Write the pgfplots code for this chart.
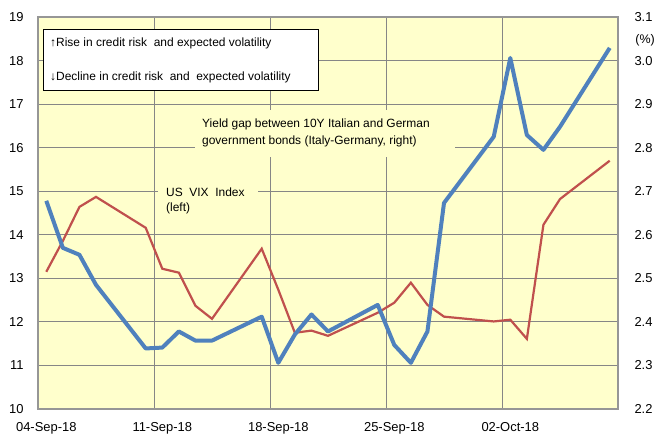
\documentclass[border=0pt]{standalone}
\usepackage{pgfplots}
\pgfplotsset{compat=1.18}
\usepackage{fontspec}
\setmainfont{Liberation Sans}
\definecolor{bgyellow}{RGB}{255,255,204}
\definecolor{vixblue}{RGB}{79,129,189}
\definecolor{gapred}{RGB}{192,80,77}
\definecolor{gridgray}{RGB}{134,134,134}
\definecolor{framegray}{RGB}{150,150,150}

\pgfplotstableread{
d v
0.5 14.78
1.5 13.70
2.5 13.54
3.5 12.85
6.5 11.39
7.5 11.41
8.5 11.78
9.5 11.57
10.5 11.57
13.5 12.12
14.5 11.06
15.5 11.71
16.5 12.17
17.5 11.78
20.5 12.39
21.5 11.47
22.5 11.06
23.5 11.78
24.5 14.73
27.5 16.25
28.5 18.06
29.5 16.29
30.5 15.95
31.5 16.48
34.5 18.29
}\vixdata

\pgfplotstableread{
d g
0.5 2.515
1.5 2.586
2.5 2.664
3.5 2.687
6.5 2.616
7.5 2.522
8.5 2.513
9.5 2.437
10.5 2.407
13.5 2.568
14.5 2.474
15.5 2.375
16.5 2.380
17.5 2.368
20.5 2.421
21.5 2.444
22.5 2.490
23.5 2.439
24.5 2.412
27.5 2.401
28.5 2.405
29.5 2.361
30.5 2.623
31.5 2.682
34.5 2.770
}\gapdata

\begin{document}
\begin{tikzpicture}[x=1bp,y=1bp]
\pgfplotsset{
  base/.style={at={(38bp,27bp)}, anchor=south west, width=580bp, height=392bp,
    scale only axis, xmin=0, xmax=35, major tick length=0pt,
    /pgf/number format/assume math mode=true,
    tick label style={font=\fontsize{13}{15}\selectfont},
    axis line style={framegray, line width=1.8bp}},
}
\begin{axis}[base, ymin=10, ymax=19, ytick={10,11,12,13,14,15,16,17,18,19},
  xtick={0,7,14,21,28},
  xticklabels={04-Sep-18,11-Sep-18,18-Sep-18,25-Sep-18,02-Oct-18},
  grid=major, major grid style={gridgray, line width=0.9bp},
  axis background/.style={fill=bgyellow},
  xticklabel style={xshift=8.3bp, yshift=-10bp},
  yticklabel style={xshift=-11bp}]
\end{axis}
\begin{axis}[base, ymin=2.2, ymax=3.1,
  ytick={2.2,2.3,2.4,2.5,2.6,2.7,2.8,2.9,3.0,3.1},
  axis y line*=right, axis x line=none,
  yticklabel style={xshift=13bp, /pgf/number format/.cd, fixed, fixed zerofill, precision=1}]
\addplot[gapred, line width=2.2bp, no marks] table[x=d, y=g] {\gapdata};
\end{axis}
\begin{axis}[base, ymin=10, ymax=19, hide axis]
\addplot[vixblue, line width=4bp, no marks, line join=round] table[x=d, y=v] {\vixdata};
\end{axis}

% annotations
\fill[bgyellow] (195,279) rectangle (455,326);
\node[anchor=base west, inner sep=0, font=\fontsize{12}{14}\selectfont] at (202,308) {Yield gap between 10Y Italian and German};
\node[anchor=base west, inner sep=0, font=\fontsize{12}{14}\selectfont] at (202,291) {government bonds (Italy-Germany, right)};
\fill[bgyellow] (158,218) rectangle (258,258);
\node[anchor=base west, inner sep=0, font=\fontsize{12}{14}\selectfont] at (166,239) {US\ \ VIX\ \ Index};
\node[anchor=base west, inner sep=0, font=\fontsize{12}{14}\selectfont] at (166,224) {(left)};
\filldraw[fill=white, draw=black, line width=1bp] (43,345) rectangle (318,406);
\node[anchor=base west, inner sep=0, font=\fontsize{12}{14}\selectfont] at (50,389) {↑Rise in credit risk\ \ and expected volatility};
\node[anchor=base west, inner sep=0, font=\fontsize{12}{14}\selectfont] at (50,355) {↓Decline in credit risk\ \ and\ \ expected volatility};
\node[anchor=east, inner sep=0, font=\fontsize{12.5}{14}\selectfont] at (655,396) {(\%)};

\pgfresetboundingbox
\useasboundingbox (0,0) rectangle (656,436);
\end{tikzpicture}
\end{document}
